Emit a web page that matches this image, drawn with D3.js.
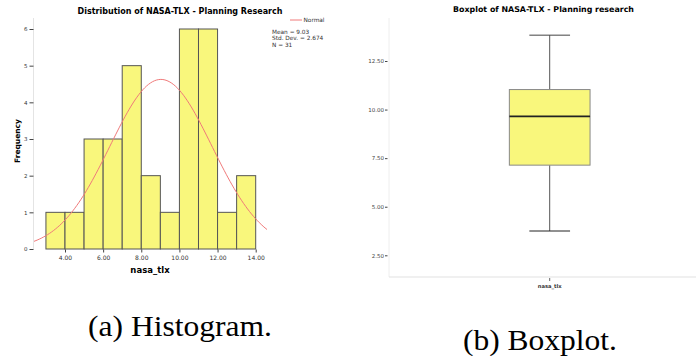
<!DOCTYPE html>
<html>
<head>
<meta charset="utf-8">
<script src="https://cdn.jsdelivr.net/npm/d3@7"></script>
<style>
  html, body { margin: 0; padding: 0; background: #fff; }
  svg { display: block; }
  text { font-family: "DejaVu Sans", sans-serif; }
</style>
</head>
<body>
<svg id="fig" width="696" height="356"></svg>
<script>
// Histogram of NASA-TLX scores (bin width 1)
const binStarts = [3, 4, 5, 6, 7, 8, 9, 10, 11, 12, 13];
const binCounts = [1, 1, 3, 3, 5, 2, 1, 6, 6, 1, 2];
const histXTicks = [4, 6, 8, 10, 12, 14];
const histYTicks = [0, 1, 2, 3, 4, 5, 6];
const statMean = 9.03;
const statSD = 2.674;
const statN = 31;
const statLines = ["Mean = 9.03", "Std. Dev. = 2.674", "N = 31"];

// Boxplot five-number summary
const boxCategory = ["nasa_tlx"];
const boxMin = [3.75];
const boxQ1 = [7.14];
const boxMedian = [9.65];
const boxQ3 = [11.03];
const boxMax = [13.83];
const boxYTicks = [2.5, 5, 7.5, 10, 12.5];

const yellow = "#f9f77c";
const svg = d3.select("#fig");

// ---------- (a) Histogram ----------
const hx = d3.scaleLinear().domain([4, 14]).range([65, 255.7]);
const hy = d3.scaleLinear().domain([0, 6]).range([249, 29]);
const hist = svg.append("g");

hist.append("text")
  .attr("x", 180).attr("y", 14)
  .attr("text-anchor", "middle")
  .attr("font-weight", "bold").attr("font-size", 8)
  .text("Distribution of NASA-TLX - Planning Research");

// frame line on the left
hist.append("line")
  .attr("x1", 33.5).attr("x2", 33.5)
  .attr("y1", 18).attr("y2", 249)
  .attr("stroke", "#e4e4e4").attr("stroke-width", 1);

hist.selectAll("rect.bar")
  .data(binStarts.map((s, i) => ({ s, c: binCounts[i] })))
  .join("rect")
  .attr("class", "bar")
  .attr("x", d => hx(d.s))
  .attr("width", d => hx(d.s + 1) - hx(d.s))
  .attr("y", d => hy(d.c))
  .attr("height", d => hy(0) - hy(d.c))
  .attr("fill", yellow)
  .attr("stroke", "#555").attr("stroke-width", 1);

// Fitted normal curve scaled to the counts
const xLo = hx.invert(34), xHi = hx.invert(267);
const curvePts = d3.range(xLo, xHi + 0.001, (xHi - xLo) / 120).map(v => [
  v,
  statN * Math.exp(-0.5 * ((v - statMean) / statSD) ** 2) / (statSD * Math.sqrt(2 * Math.PI))
]);
hist.append("path")
  .attr("d", d3.line().x(d => hx(d[0])).y(d => hy(d[1]))(curvePts))
  .attr("fill", "none").attr("stroke", "#f07a7a").attr("stroke-width", 1);

// y axis
const hyAxis = hist.append("g").attr("transform", "translate(33.5,0)")
  .call(d3.axisLeft(hy).tickValues(histYTicks).tickFormat(d3.format("d")).tickSize(4).tickPadding(2));
hyAxis.select(".domain").remove();
hyAxis.selectAll("line").attr("stroke", "#444");
hyAxis.selectAll("text").attr("font-size", 5.5).attr("fill", "#333")
  .style("font-family", "DejaVu Sans, sans-serif");

// x axis
const hxAxis = hist.append("g").attr("transform", "translate(0,249.5)")
  .call(d3.axisBottom(hx).tickValues(histXTicks).tickFormat(d3.format(".2f")).tickSize(3).tickPadding(3));
hxAxis.select(".domain").remove();
hxAxis.selectAll("line").attr("stroke", "#444");
hxAxis.selectAll("text").attr("font-size", 6).attr("fill", "#333")
  .style("font-family", "DejaVu Sans, sans-serif");

hist.append("text")
  .attr("x", 150).attr("y", 273)
  .attr("text-anchor", "middle")
  .attr("font-weight", "bold").attr("font-size", 8.5)
  .text("nasa_tlx");

hist.append("text")
  .attr("transform", "translate(20,141) rotate(-90)")
  .attr("text-anchor", "middle")
  .attr("font-weight", "bold").attr("font-size", 7.5)
  .text("Frequency");

// legend and statistics
hist.append("line")
  .attr("x1", 290).attr("x2", 302).attr("y1", 20).attr("y2", 20)
  .attr("stroke", "#f07a7a").attr("stroke-width", 1);
hist.append("text")
  .attr("x", 303.5).attr("y", 22.2)
  .attr("font-size", 5.8).attr("fill", "#333")
  .text("Normal");
hist.selectAll("text.stat")
  .data(statLines)
  .join("text")
  .attr("class", "stat")
  .attr("x", 272).attr("y", (d, i) => 34 + i * 6.3)
  .attr("font-size", 5.8).attr("fill", "#333")
  .text(d => d);

// ---------- (b) Boxplot ----------
const bx = d3.scaleBand().domain(boxCategory).range([389, 710]);
const by = d3.scaleLinear().domain([2.5, 12.5]).range([255.3, 61]);
const box = svg.append("g");

box.append("text")
  .attr("x", 543.5).attr("y", 12)
  .attr("text-anchor", "middle")
  .attr("font-weight", "bold").attr("font-size", 7.9)
  .text("Boxplot of NASA-TLX - Planning research");

// frame lines
box.append("line")
  .attr("x1", 389).attr("x2", 389).attr("y1", 18).attr("y2", 277)
  .attr("stroke", "#eeeeee").attr("stroke-width", 1);
box.append("line")
  .attr("x1", 389).attr("x2", 696).attr("y1", 277).attr("y2", 277)
  .attr("stroke", "#e2e2e2").attr("stroke-width", 1.2);

const byAxis = box.append("g").attr("transform", "translate(387.5,0)")
  .call(d3.axisLeft(by).tickValues(boxYTicks).tickFormat(d3.format(".2f")).tickSize(2.5).tickPadding(1));
byAxis.select(".domain").remove();
byAxis.selectAll("line").attr("stroke", "#444");
byAxis.selectAll("text").attr("font-size", 5.5).attr("fill", "#444")
  .style("font-family", "DejaVu Sans, sans-serif");

const boxWidth = 80.7, capWidth = 40.7;
const cx = 549.7;
boxCategory.forEach((c, i) => {
  // whiskers
  box.append("line").attr("x1", cx).attr("x2", cx)
    .attr("y1", by(boxMax[i])).attr("y2", by(boxQ3[i]))
    .attr("stroke", "#555").attr("stroke-width", 1);
  box.append("line").attr("x1", cx).attr("x2", cx)
    .attr("y1", by(boxQ1[i])).attr("y2", by(boxMin[i]))
    .attr("stroke", "#555").attr("stroke-width", 1);
  box.append("line").attr("x1", cx - capWidth / 2).attr("x2", cx + capWidth / 2)
    .attr("y1", by(boxMax[i])).attr("y2", by(boxMax[i]))
    .attr("stroke", "#444").attr("stroke-width", 1);
  box.append("line").attr("x1", cx - capWidth / 2).attr("x2", cx + capWidth / 2)
    .attr("y1", by(boxMin[i])).attr("y2", by(boxMin[i]))
    .attr("stroke", "#222").attr("stroke-width", 1);
  // box
  box.append("rect")
    .attr("x", cx - boxWidth / 2).attr("width", boxWidth)
    .attr("y", by(boxQ3[i])).attr("height", by(boxQ1[i]) - by(boxQ3[i]))
    .attr("fill", yellow).attr("stroke", "#888").attr("stroke-width", 1);
  // median
  box.append("line").attr("x1", cx - boxWidth / 2).attr("x2", cx + boxWidth / 2)
    .attr("y1", by(boxMedian[i])).attr("y2", by(boxMedian[i]))
    .attr("stroke", "#222").attr("stroke-width", 1.8);
  // category tick and label
  box.append("line").attr("x1", cx).attr("x2", cx).attr("y1", 278).attr("y2", 281)
    .attr("stroke", "#444").attr("stroke-width", 0.8);
  box.append("text")
    .attr("x", cx).attr("y", 287.5)
    .attr("text-anchor", "middle")
    .attr("font-size", 5.2).attr("font-weight", "bold").attr("fill", "#333")
    .text(c);
});

// ---------- captions ----------
svg.append("text")
  .attr("x", 88).attr("y", 336)
  .attr("font-size", 30)
  .attr("textLength", 184).attr("lengthAdjust", "spacingAndGlyphs")
  .style("font-family", "Liberation Serif, DejaVu Serif, serif")
  .text("(a) Histogram.");
svg.append("text")
  .attr("x", 463).attr("y", 350)
  .attr("font-size", 30)
  .attr("textLength", 154).attr("lengthAdjust", "spacingAndGlyphs")
  .style("font-family", "Liberation Serif, DejaVu Serif, serif")
  .text("(b) Boxplot.");
</script>
</body>
</html>
